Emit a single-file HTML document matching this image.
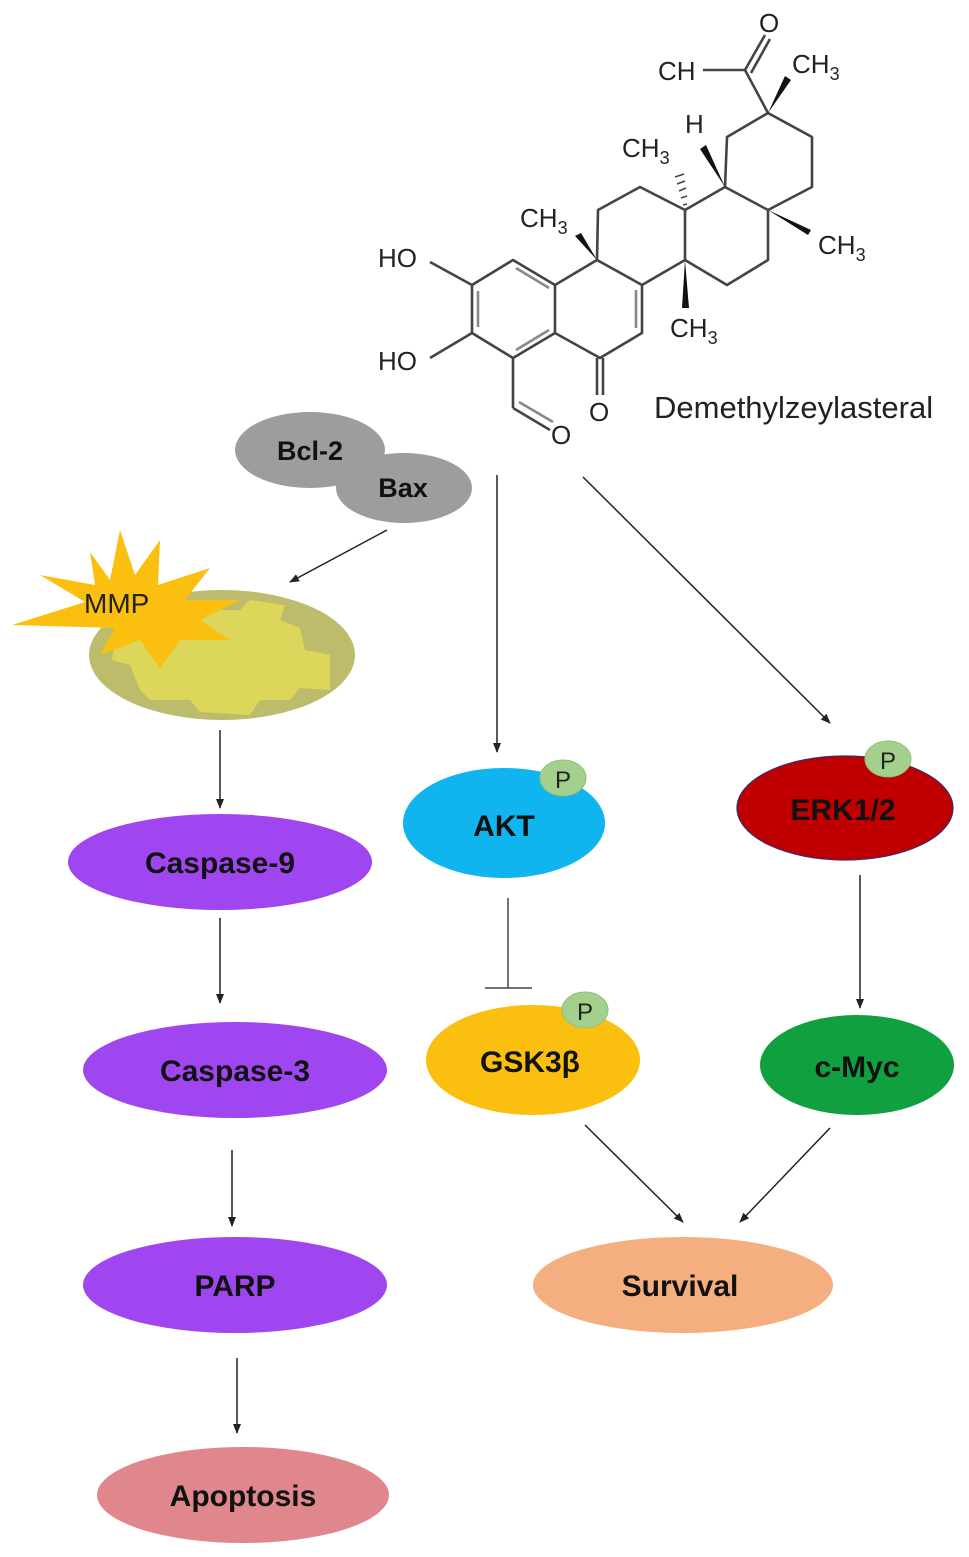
<!DOCTYPE html>
<html><head><meta charset="utf-8"><style>
html,body{margin:0;padding:0;background:#fff;}
svg{display:block;}
.lbl{font-family:"Liberation Sans",sans-serif;font-weight:bold;fill:#111;text-anchor:middle;}
.chem{font-family:"Liberation Sans",sans-serif;fill:#222;}
</style></head><body>
<svg width="969" height="1557" viewBox="0 0 969 1557" xmlns="http://www.w3.org/2000/svg">
<defs>
<marker id="ah" markerWidth="10" markerHeight="10" refX="9" refY="5" orient="auto" markerUnits="userSpaceOnUse"><path d="M0,1 L10,5 L0,9 z" fill="#222"/></marker>
</defs>
<g stroke="#444" stroke-width="2.6" fill="none" stroke-linejoin="round">
<polygon points="472,285 513,260 555,285 555,333 513,358 472,333"/>
<line x1="478" y1="291" x2="478" y2="327" stroke="#888"/>
<line x1="516" y1="268" x2="549" y2="288" stroke="#888"/>
<line x1="516" y1="350" x2="549" y2="330" stroke="#888"/>
<line x1="472" y1="285" x2="430" y2="262"/>
<line x1="472" y1="333" x2="430" y2="358"/>
<polyline points="555,285 597,260 642,285 642,333 600,358 555,333"/>
<line x1="636" y1="290" x2="636" y2="328" stroke="#888"/>
<line x1="513" y1="358" x2="513" y2="408"/>
<line x1="513" y1="408" x2="550" y2="430"/>
<line x1="519" y1="402" x2="553" y2="422" stroke="#888"/>
<line x1="597" y1="358" x2="597" y2="395"/>
<line x1="603" y1="358" x2="603" y2="395"/>
<polyline points="597,260 598,210 640,187 685,210 685,260 642,285"/>
<polyline points="685,210 725,187 768,210 768,260 727,285 685,260"/>
<polyline points="725,187 727,137 768,113 812,137 812,187 768,210"/>
<line x1="768" y1="113" x2="745" y2="70"/>
<line x1="745" y1="70" x2="703" y2="70"/>
<line x1="745" y1="70" x2="765" y2="35"/>
<line x1="751" y1="73" x2="770" y2="39"/>
</g>
<g fill="#111">
<polygon points="597,260 575,236 581,233"/>
<polygon points="685,260 682,308 689,308"/>
<polygon points="725,187 700,149 706,145"/>
<polygon points="768,210 808,235 811,230"/>
<polygon points="768,113 785,76 791,80"/>
</g>
<g stroke="#444" stroke-width="1.5">
<line x1="683" y1="205" x2="687" y2="204"/><line x1="681" y1="198" x2="687" y2="196"/><line x1="679" y1="191" x2="686" y2="188"/><line x1="677" y1="184" x2="685" y2="181"/><line x1="675" y1="177" x2="684" y2="174"/>
</g>
<g class="chem" font-size="26">
<text x="378" y="267">HO</text>
<text x="378" y="370">HO</text>
<text x="551" y="444">O</text>
<text x="589" y="421">O</text>
<text x="520" y="227">CH<tspan font-size="18" dy="7">3</tspan></text>
<text x="622" y="157">CH<tspan font-size="18" dy="7">3</tspan></text>
<text x="685" y="133">H</text>
<text x="670" y="337">CH<tspan font-size="18" dy="7">3</tspan></text>
<text x="818" y="254">CH<tspan font-size="18" dy="7">3</tspan></text>
<text x="792" y="73">CH<tspan font-size="18" dy="7">3</tspan></text>
<text x="658" y="80">CH</text>
<text x="759" y="32">O</text>
<text x="654" y="418" font-size="31">Demethylzeylasteral</text>
</g>
<ellipse cx="310" cy="450" rx="75" ry="38" fill="#9d9d9d"/>
<ellipse cx="404" cy="488" rx="68" ry="35" fill="#9d9d9d"/>
<text class="lbl" x="310" y="460" font-size="27">Bcl-2</text>
<text class="lbl" x="403" y="497" font-size="27">Bax</text>
<ellipse cx="222" cy="655" rx="133" ry="65" fill="#bcbc6c"/>
<path d="M115,640 L180,630 L200,610 L240,610 L250,600 L285,605 L280,620 L300,628 L305,650 L330,655 L330,690 L300,688 L290,700 L260,700 L250,715 L200,712 L190,700 L150,700 L140,690 L130,665 L112,660 Z" fill="#dcd65a"/>
<path d="M90,552 L110,580 L120,530 L135,575 L160,540 L158,585 L210,568 L185,600 L240,600 L200,620 L230,640 L180,640 L160,668 L140,640 L100,655 L115,628 L12,625 L85,602 L40,575 L95,585 Z" fill="#fbbf10"/>
<text x="84" y="613" font-family="Liberation Sans,sans-serif" font-size="28" fill="#222">MMP</text>
<g stroke="#222" stroke-width="1.5" marker-end="url(#ah)">
<line x1="387" y1="530" x2="290" y2="582"/>
<line x1="220" y1="730" x2="220" y2="808"/>
<line x1="220" y1="918" x2="220" y2="1003"/>
<line x1="232" y1="1150" x2="232" y2="1226"/>
<line x1="237" y1="1358" x2="237" y2="1433"/>
<line x1="497" y1="475" x2="497" y2="752"/>
<line x1="583" y1="477" x2="830" y2="723"/>
<line x1="860" y1="875" x2="860" y2="1008"/>
<line x1="585" y1="1125" x2="683" y2="1222"/>
<line x1="830" y1="1128" x2="740" y2="1222"/>
</g>
<g stroke="#444" stroke-width="1.5">
<line x1="508" y1="898" x2="508" y2="988"/>
<line x1="485" y1="988" x2="532" y2="988"/>
</g>
<ellipse cx="220" cy="862" rx="152" ry="48" fill="#a046f0"/>
<text class="lbl" x="220" y="873" font-size="30">Caspase-9</text>
<ellipse cx="235" cy="1070" rx="152" ry="48" fill="#a046f0"/>
<text class="lbl" x="235" y="1081" font-size="30">Caspase-3</text>
<ellipse cx="235" cy="1285" rx="152" ry="48" fill="#a046f0"/>
<text class="lbl" x="235" y="1296" font-size="30">PARP</text>
<ellipse cx="243" cy="1495" rx="146" ry="48" fill="#e0878e"/>
<text class="lbl" x="243" y="1506" font-size="30">Apoptosis</text>
<ellipse cx="504" cy="823" rx="101" ry="55" fill="#10b4ee"/>
<ellipse cx="563" cy="778" rx="23" ry="18" fill="#a4d08e" stroke="#8fbf7a"/>
<text class="lbl" x="504" y="836" font-size="30">AKT</text>
<text x="563" y="788" font-family="Liberation Sans,sans-serif" font-size="24" fill="#222" text-anchor="middle">P</text>
<ellipse cx="533" cy="1060" rx="107" ry="55" fill="#fbbf10"/>
<ellipse cx="585" cy="1010" rx="23" ry="18" fill="#a4d08e" stroke="#8fbf7a"/>
<text class="lbl" x="530" y="1072" font-size="30">GSK3β</text>
<text x="585" y="1020" font-family="Liberation Sans,sans-serif" font-size="24" fill="#222" text-anchor="middle">P</text>
<ellipse cx="845" cy="808" rx="108" ry="52" fill="#c00000" stroke="#3a2a6a" stroke-width="1.2"/>
<ellipse cx="888" cy="759" rx="23" ry="18" fill="#a4d08e" stroke="#8fbf7a"/>
<text class="lbl" x="843" y="820" font-size="30">ERK1/2</text>
<text x="888" y="769" font-family="Liberation Sans,sans-serif" font-size="24" fill="#222" text-anchor="middle">P</text>
<ellipse cx="857" cy="1065" rx="97" ry="50" fill="#10a040"/>
<text class="lbl" x="857" y="1077" font-size="30">c-Myc</text>
<ellipse cx="683" cy="1285" rx="150" ry="48" fill="#f4ae80"/>
<text class="lbl" x="680" y="1296" font-size="30">Survival</text>
</svg>
</body></html>
